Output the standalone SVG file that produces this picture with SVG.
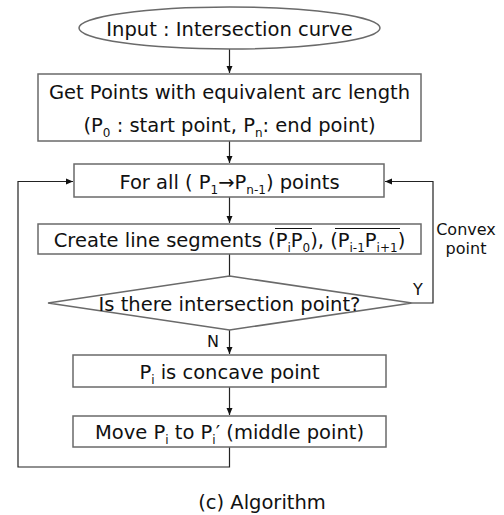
<svg xmlns="http://www.w3.org/2000/svg" width="504" height="515" viewBox="0 0 504 515">
<defs>
<marker id="ah" markerWidth="8" markerHeight="8" refX="7" refY="4" orient="auto" markerUnits="userSpaceOnUse">
<path d="M0,1 L7,4 L0,7 Z" fill="#111"/>
</marker>
<style>
.box{fill:#fff;stroke:#6a6a6a;stroke-width:1.5}
.t{font-family:"DejaVu Sans",Verdana,sans-serif;font-size:19.5px;fill:#111;text-anchor:middle}
.s{font-size:12px}
.lbl{font-family:"DejaVu Sans",Verdana,sans-serif;font-size:16px;fill:#111;text-anchor:middle}
.c{fill:none;stroke:#222;stroke-width:1.2}
.ov{stroke:#111;stroke-width:1.2}
</style>
</defs>
<rect width="504" height="515" fill="#fff"/>
<g id="connectors">
<line class="c" x1="229.5" y1="49" x2="229.5" y2="73" marker-end="url(#ah)"/>
<line class="c" x1="229.5" y1="141" x2="229.5" y2="163" marker-end="url(#ah)"/>
<line class="c" x1="229.5" y1="197" x2="229.5" y2="223" marker-end="url(#ah)"/>
<line class="c" x1="229.5" y1="254" x2="229.5" y2="276"/>
<line class="c" x1="229.5" y1="330" x2="229.5" y2="354" marker-end="url(#ah)"/>
<line class="c" x1="229.5" y1="387" x2="229.5" y2="415" marker-end="url(#ah)"/>
<polyline class="c" points="412,303 433,303 433,181.5 385,181.5" marker-end="url(#ah)"/>
<polyline class="c" points="229.5,447 229.5,467 18,467 18,181.5 73,181.5" marker-end="url(#ah)"/>
</g>
<g id="n1">
<ellipse class="box" cx="229.5" cy="28" rx="150.5" ry="21"/>
<text class="t" x="229.5" y="36">Input : Intersection curve</text>
</g>
<g id="n2">
<rect class="box" x="38" y="74" width="383" height="67"/>
<text class="t" x="229.5" y="99">Get Points with equivalent arc length</text>
<text class="t" x="229.5" y="132">(P<tspan class="s" dy="5">0</tspan><tspan dy="-5"> : start point, P</tspan><tspan class="s" dy="5">n</tspan><tspan dy="-5">: end point)</tspan></text>
</g>
<g id="n3">
<rect class="box" x="74" y="164" width="310" height="33"/>
<text class="t" x="229.5" y="189">For all ( P<tspan class="s" dy="5">1</tspan><tspan dy="-5">→P</tspan><tspan class="s" dy="5">n-1</tspan><tspan dy="-5">) points</tspan></text>
</g>
<g id="n4">
<rect class="box" x="38" y="224" width="383" height="30"/>
<text class="t" x="229.5" y="247">Create line segments (P<tspan class="s" dy="5">i</tspan><tspan dy="-5">P</tspan><tspan class="s" dy="5">0</tspan><tspan dy="-5">), (P</tspan><tspan class="s" dy="5">i-1</tspan><tspan dy="-5">P</tspan><tspan class="s" dy="5">i+1</tspan><tspan dy="-5">)</tspan></text>
<line class="ov" x1="275" y1="228.5" x2="312" y2="228.5"/>
<line class="ov" x1="335" y1="228.5" x2="400" y2="228.5"/>
</g>
<g id="n5">
<polygon class="box" points="229.5,276 412,303 229.5,330 48,303"/>
<text class="t" x="229.5" y="311">Is there intersection point?</text>
</g>
<g id="n6">
<rect class="box" x="73" y="355" width="313" height="32"/>
<text class="t" x="229.5" y="379">P<tspan class="s" dy="5">i</tspan><tspan dy="-5"> is concave point</tspan></text>
</g>
<g id="n7">
<rect class="box" x="73" y="416" width="313" height="31"/>
<text class="t" x="229.5" y="439">Move P<tspan class="s" dy="5">i</tspan><tspan dy="-5"> to P</tspan><tspan class="s" dy="5">i</tspan><tspan dy="-5">′ (middle point)</tspan></text>
</g>
<g id="labels">
<text class="lbl" x="466" y="235">Convex</text>
<text class="lbl" x="466" y="254">point</text>
<text class="lbl" x="418" y="295">Y</text>
<text class="lbl" x="213" y="347">N</text>
<text class="t" x="262" y="509">(c) Algorithm</text>
</g>
</svg>
